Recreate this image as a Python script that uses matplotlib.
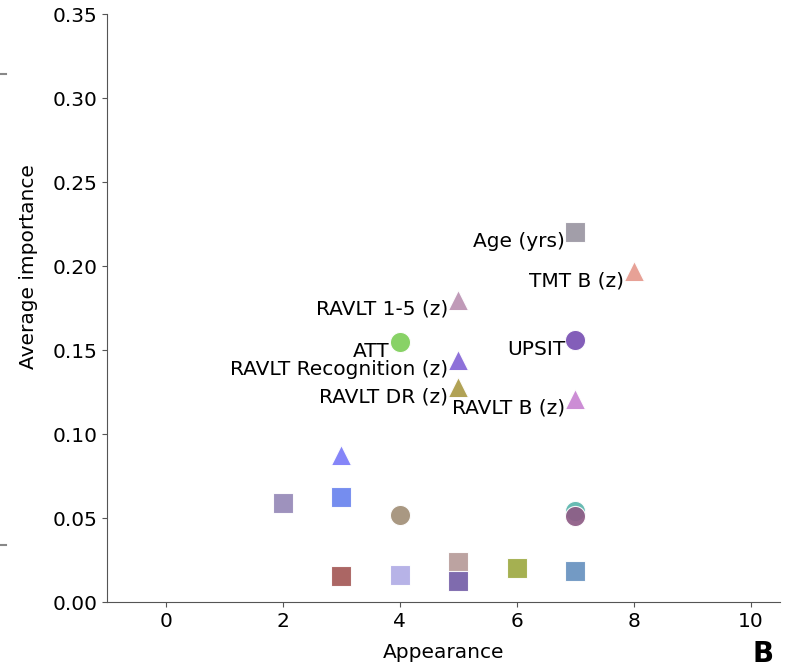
import matplotlib
matplotlib.use("Agg")
import matplotlib.pyplot as plt
from matplotlib.lines import Line2D

# Feature appearance count vs. average importance
appearance = [7, 8, 5, 4, 7, 5, 5, 7,
              3, 2, 3, 4, 7, 7, 3, 4, 5, 5, 6, 7]
importance = [0.220, 0.197, 0.180, 0.155, 0.156, 0.144, 0.128, 0.121,
              0.0875, 0.059, 0.0625, 0.052, 0.054, 0.051, 0.0155, 0.016,
              0.024, 0.0125, 0.020, 0.0185]
labels = ["Age (yrs)", "TMT B (z)", "RAVLT 1-5 (z)", "ATT", "UPSIT",
          "RAVLT Recognition (z)", "RAVLT DR (z)", "RAVLT B (z)",
          "", "", "", "", "", "", "", "", "", "", "", ""]
markers = ["s", "^", "^", "o", "o", "^", "^", "^",
           "^", "s", "s", "o", "o", "o", "s", "s", "s", "s", "s", "s"]
colors = ["#9b97a3", "#e69a8e", "#bb93b3", "#7fcf5a", "#7a52b4", "#8566d6",
          "#ab9b48", "#c884d2", "#7c7cf8", "#978ab8", "#6b84ee", "#a39079",
          "#5cb6ae", "#8e5c86", "#a55a58", "#b2ade6", "#b79c9a", "#7560a8",
          "#9eaa44", "#6893c0"]

fig = plt.figure(figsize=(7.93, 6.71), dpi=100)
ax = fig.add_axes([0.135, 0.1028, 0.8486, 0.8762])

for x, y, m, c in zip(appearance, importance, markers, colors):
    ax.scatter(x, y, s=210, marker=m, color=c, alpha=0.93,
               edgecolor="white", linewidth=0.8, zorder=3)

for x, y, lab in zip(appearance, importance, labels):
    if lab:
        ax.text(x - 0.17, y, lab, ha="right", va="top", fontsize=14.5)

ax.set_xlim(-1, 10.5)
ax.set_ylim(0, 0.35)
ax.set_xticks([0, 2, 4, 6, 8, 10])
ax.set_yticks([0.0, 0.05, 0.10, 0.15, 0.20, 0.25, 0.30, 0.35])
ax.set_yticklabels([f"{v:.2f}" for v in ax.get_yticks()])
ax.tick_params(labelsize=14.5, color="#555555")
ax.set_xlabel("Appearance", fontsize=14.5, labelpad=9)
ax.set_ylabel("Average importance", fontsize=14.5)
ax.yaxis.set_label_coords(-0.102, 0.57)
for side in ["top", "right"]:
    ax.spines[side].set_visible(False)
for side in ["left", "bottom"]:
    ax.spines[side].set_color("#555555")

fig.text(0.975, 0.005, "B", fontsize=20, fontweight="bold",
         ha="right", va="bottom")

# stray tick marks from the neighbouring panel
for yy in [1 - 74 / 671, 1 - 545 / 671]:
    fig.add_artist(Line2D([0, 0.008], [yy, yy], color="#888888", lw=1.5))

fig.savefig("out.png", dpi=100)
